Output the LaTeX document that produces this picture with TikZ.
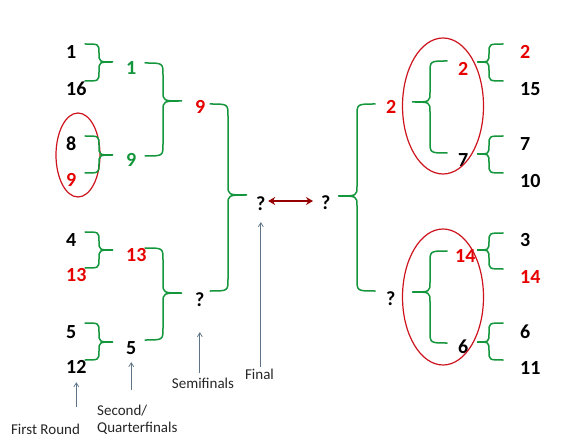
\documentclass[tikz,border=0pt]{standalone}
\usepackage{fontspec}
\setmainfont{Carlito}
\usetikzlibrary{arrows.meta}
\definecolor{bgreen}{RGB}{20,150,60}
\definecolor{bred}{RGB}{230,0,0}
\definecolor{ered}{RGB}{205,20,30}
\definecolor{dred}{RGB}{150,0,0}
\definecolor{pgrey}{RGB}{95,115,135}
% brace: x ends, x vertical, x tip, y top, y tip, y bottom, end radius, tip radius
\newcommand\brc[8]{\draw[brc] (#1,#4) .. controls (#2,#4) .. (#2,{#4+#7}) -- (#2,{#5-#8}) .. controls (#2,#5) .. (#3,#5) .. controls (#2,#5) .. (#2,{#5+#8}) -- (#2,{#6-#7}) .. controls (#2,#6) .. (#1,#6);}
\begin{document}
\begin{tikzpicture}[x=1pt,y=-1pt,
  num/.style={font=\fontsize{20}{24}\selectfont\bfseries, inner sep=0pt, anchor=west},
  lab/.style={font=\fontsize{15}{17}\selectfont, inner sep=0pt, text=black!85},
  brc/.style={draw=bgreen, line width=1.5pt, line cap=round},
  ell/.style={draw=ered, line width=1.2pt},
  ptr/.style={draw=pgrey, line width=0.7pt, -{Straight Barb[length=4pt,width=5pt]}},
  dbl/.style={draw=dred, line width=1.6pt, {Stealth[length=7pt,width=8pt]}-{Stealth[length=7pt,width=8pt]}}]
\useasboundingbox[fill=white] (0,0) rectangle (575,446);
% left first round
\node[num] (l1) at (66,52) {1};
\node[num] (l16) at (66,89) {16};
\node[num] (l8) at (66,144) {8};
\node[num,text=bred] (l9) at (66,180) {9};
\node[num] (l4) at (66,240) {4};
\node[num,text=bred] (l13) at (66,275) {13};
\node[num] (l5) at (66,332) {5};
\node[num] (l12) at (66,367) {12};
% left second round
\node[num,text=bgreen] (q1) at (126,68) {1};
\node[num,text=bgreen] (q9) at (126,160) {9};
\node[num,text=bred] (q13) at (126,255) {13};
\node[num] (q5) at (126,348) {5};
% left semifinal
\node[num,text=bred] (s9) at (195,107) {9};
\node[num] (sq) at (195,300) {?};
% final
\node[num] (fL) at (256,204) {?};
\node[num] (fR) at (321,203) {?};
% right semifinal
\node[num,text=bred] (s2) at (386,107) {2};
\node[num] (sq2) at (386,299) {?};
% right second round
\node[num,text=bred] (rq2) at (458,69) {2};
\node[num] (rq7) at (458,160) {7};
\node[num,text=bred] (rq14) at (455,256) {14};
\node[num] (rq6) at (458,347) {6};
% right first round
\node[num,text=bred] (r2) at (520,52) {2};
\node[num] (r15) at (520,89) {15};
\node[num] (r7) at (520,144) {7};
\node[num] (r10) at (520,181) {10};
\node[num] (r3) at (520,240) {3};
\node[num,text=bred] (r14) at (520,277) {14};
\node[num] (r6) at (520,332) {6};
\node[num] (r11) at (520,368) {11};
% ellipses
\draw[ell] (78,155) ellipse [x radius=22pt, y radius=42pt];
\draw[ell] (443,106) ellipse [x radius=40.5pt, y radius=68pt];
\draw[ell] (443,297) ellipse [x radius=40.5pt, y radius=68pt];
% left braces
\brc{85}{99}{113}{44}{62}{81}{9}{9}
\brc{85}{99}{113}{136}{155}{173}{9}{9}
\brc{85}{99}{113}{232}{250}{268}{9}{9}
\brc{85}{99}{113}{323}{342}{360}{9}{9}
\brc{145}{163}{182}{63}{101}{156}{12}{10}
\brc{145}{163}{182}{248}{293}{340}{12}{10}
\brc{210}{228}{247}{104}{195}{291}{12}{10}
% right braces
\brc{503}{489}{477}{44}{62}{81}{9}{9}
\brc{503}{489}{477}{136}{154}{173}{9}{9}
\brc{503}{489}{477}{233}{250}{269}{9}{9}
\brc{503}{489}{477}{323}{342}{360}{9}{9}
\brc{447}{430}{412}{61}{102}{153}{12}{10}
\brc{447}{430}{412}{251}{292}{343}{12}{10}
\brc{375}{357}{338}{104}{196}{291}{12}{10}
% final arrow
\draw[dbl, shorten <=2.5pt, shorten >=8pt] ([yshift=3pt]fL.east) -- ([yshift=2pt]fR.west);
% round labels
\node[lab, anchor=base] (fr) at (45.5,434) {First Round};
\node[lab, anchor=north west, align=left] (sqf) at (97,404.5) {Second/\\Quarterfinals};
\node[lab, anchor=base] (semi) at (203,388) {Semifinals};
\node[lab, anchor=base] (fin) at (259.5,379) {Final};
\draw[ptr, shorten <=16.5pt, shorten >=8.5pt] (fr.north -| l12) -- (l12.south);
\draw[ptr, shorten <=14.5pt, shorten >=7.4pt] (sqf.north -| q5) -- (q5.south);
\draw[ptr, shorten <=4pt, shorten >=25pt] (semi.north -| sq) -- (sq.south);
\draw[ptr, shorten <=1.5pt, shorten >=11pt] (fin.north -| fL) -- (fL.south);
\end{tikzpicture}
\end{document}
